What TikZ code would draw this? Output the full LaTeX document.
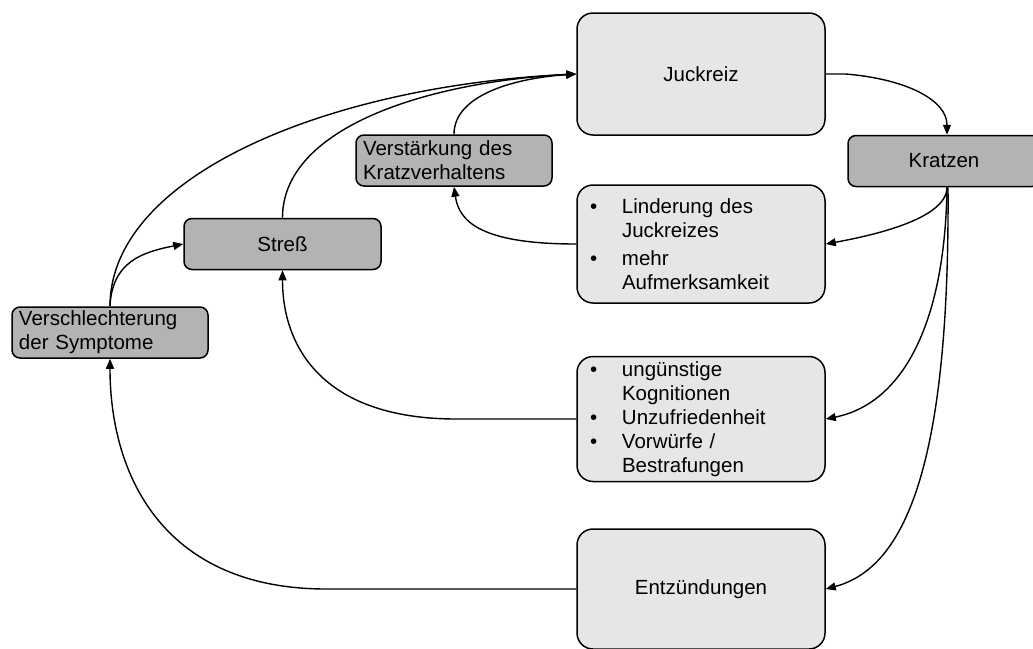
\documentclass[tikz,border=0pt]{standalone}
\usepackage{fontspec}
\setmainfont{Liberation Sans}
\usetikzlibrary{arrows.meta}

\definecolor{boxlight}{HTML}{E6E6E6}
\definecolor{boxdark}{HTML}{B3B3B3}

\newcommand{\bul}{\makebox[32pt][l]{•}}
\newcommand{\ind}{\hspace*{32pt}}

\begin{document}
\begin{tikzpicture}[x=1pt,y=-1pt,
  every node/.style={font=\fontsize{20.5}{24}\selectfont},
  bigbox/.style={draw, line width=1.5pt, fill=boxlight, rounded corners=16pt,
    minimum width=248pt, inner sep=0pt, align=left},
  smallbox/.style={draw, line width=1.5pt, fill=boxdark, rounded corners=8pt,
    minimum height=51pt, inner sep=0pt},
  link/.style={line width=1.4pt, -{Triangle[length=10pt,width=8pt]}}
]
\useasboundingbox (0,0) rectangle (1033,648);

% boxes
\node[bigbox, minimum height=122pt] (jk) at (701,74) {Juckreiz};
\node[bigbox, minimum height=118pt, text width=222pt] (li) at (701,244)
  {\bul Linderung des\\\ind Juckreizes\\[4pt]\bul mehr\\\ind Aufmerksamkeit};
\node[bigbox, minimum height=125pt, text width=222pt] (un) at (701,419)
  {\bul ungünstige\\\ind Kognitionen\\\bul Unzufriedenheit\\\bul Vorwürfe /\\\ind Bestrafungen};
\node[bigbox, minimum height=120pt] (en) at (701,589) {Entzündungen};

\node[smallbox, minimum width=192pt] (kr) at (944,161) {Kratzen};
\node[smallbox, minimum width=196pt, text width=182pt, align=left] (vs) at (454,160.5)
  {Verstärkung des\\Kratzverhaltens};
\node[smallbox, minimum width=197pt] (st) at (282.5,244) {Streß};
\node[smallbox, minimum width=196pt, text width=182pt, align=left] (vc) at (110,332.5)
  {Verschlechterung\\der Symptome};

% connectors
\draw[link] (jk.east) -- ++(20,0) .. controls +(60,5) and +(0,-35) .. ([xshift=3pt]kr.north);
\draw[link] ([xshift=3pt]kr.south) .. controls +(0,30) and +(55,-10) .. (li.east);
\draw[link] ([xshift=3pt]kr.south) .. controls +(-2,140) and +(75,-15) .. (un.east);
\draw[link] ([xshift=4pt]kr.south) .. controls +(2,290) and +(75,-20) .. (en.east);

\draw[link] (li.west) .. controls +(-95,0) and +(5,35) .. (vs.south);
\draw[link] (vs.north) .. controls +(0,-40) and +(-60,4) .. (jk.west);

\draw[link] (un.west) -- ++(-120,0) .. controls +(-130,0) and +(0,80) .. (st.south);
\draw[link] (st.north) .. controls +(0,-90) and +(-150,8) .. (jk.west);

\draw[link] (en.west) -- ++(-250,0) .. controls +(-160,0) and +(0,120) .. (vc.south);
\draw[link] (vc.north) .. controls +(0,-130) and +(-250,12) .. (jk.west);
\draw[link] (vc.north) .. controls +(2,-45) and +(-40,8) .. (st.west);
\end{tikzpicture}
\end{document}
